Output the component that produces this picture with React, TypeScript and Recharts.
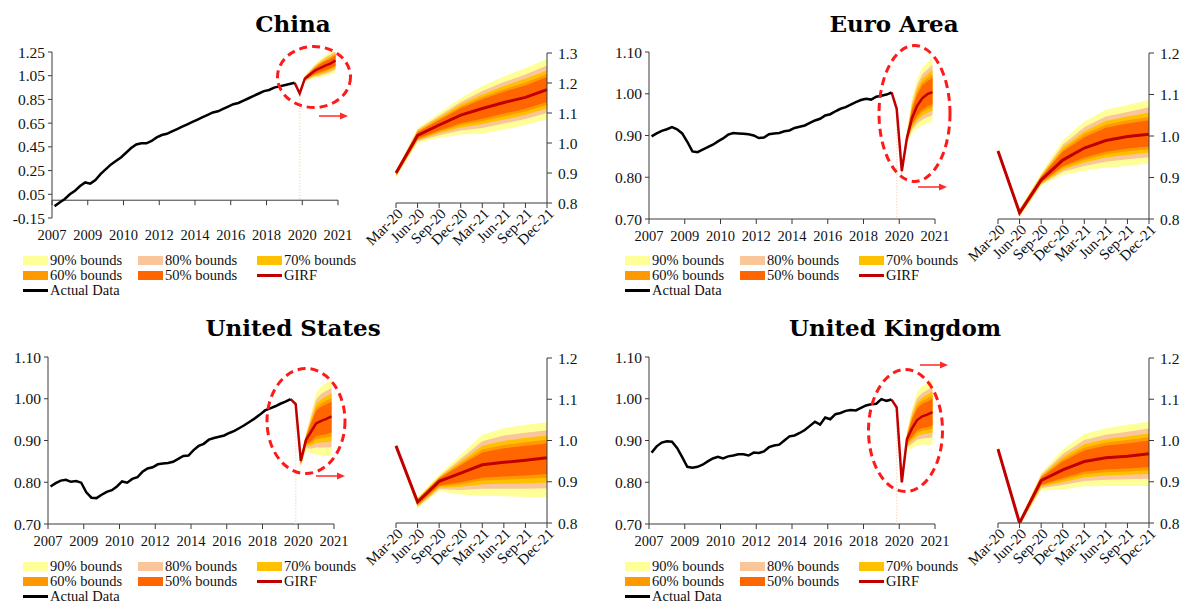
import React from 'react'
import { ComposedChart, Area, Line, XAxis, YAxis, ReferenceLine } from 'recharts'

const FONT = 'Liberation Serif'
const TITLE_FONT = 'DejaVu Serif'
const AXIS = '#3a3a3a'
const TXT = '#111'

const C90 = '#FFFF99'
const C80 = '#FAC598'
const C70 = '#FFC000'
const C60 = '#FF9900'
const C50 = '#FF6600'
const CGIRF = '#C00000'

const quarters = ['Mar-20', 'Jun-20', 'Sep-20', 'Dec-20', 'Mar-21', 'Jun-21', 'Sep-21', 'Dec-21']
const yearTicks = [0, 7, 14, 21, 28, 35, 42, 49, 56]
const yearLabels = ['2007', '2009', '2010', '2012', '2014', '2016', '2018', '2020', '2021']
const bandKeys = ['b90', 'b80', 'b70', 'b60', 'b50']
const bandColors = [C90, C80, C70, C60, C50]

// quarterly actual data, 48 points up to Dec-19
const chinaActual = [
  -0.05, -0.02, 0.01, 0.05, 0.08, 0.12, 0.15, 0.14, 0.17, 0.22, 0.26, 0.3,
  0.33, 0.36, 0.4, 0.44, 0.47, 0.48, 0.48, 0.5, 0.53, 0.55, 0.56, 0.58,
  0.6, 0.62, 0.64, 0.66, 0.68, 0.7, 0.72, 0.74, 0.75, 0.77, 0.79, 0.81,
  0.82, 0.84, 0.86, 0.88, 0.9, 0.92, 0.93, 0.95, 0.96, 0.97, 0.98, 0.99,
]
const euroActual = [
  0.898, 0.905, 0.911, 0.915, 0.92, 0.915, 0.905, 0.885, 0.862, 0.86, 0.866, 0.872,
  0.878, 0.886, 0.893, 0.902, 0.906, 0.905, 0.904, 0.903, 0.9, 0.894, 0.895, 0.903,
  0.905, 0.906, 0.91, 0.912, 0.918, 0.921, 0.924, 0.93, 0.936, 0.94, 0.948, 0.951,
  0.958, 0.964, 0.968, 0.974, 0.98, 0.985, 0.988, 0.986, 0.993, 0.995, 0.998, 1.003,
]
const usActual = [
  0.79, 0.798, 0.804, 0.806, 0.801, 0.803, 0.799, 0.776, 0.763, 0.762, 0.77, 0.777,
  0.781, 0.79, 0.802, 0.799, 0.808, 0.812, 0.825, 0.833, 0.836, 0.843, 0.845, 0.846,
  0.849, 0.856, 0.863, 0.864, 0.877, 0.887, 0.892, 0.902, 0.906, 0.909, 0.912, 0.918,
  0.923, 0.93, 0.937, 0.945, 0.953, 0.962, 0.972, 0.977, 0.982, 0.988, 0.993, 0.999,
]
const ukActual = [
  0.871, 0.886, 0.895, 0.898, 0.897, 0.882, 0.86, 0.837, 0.835, 0.837, 0.842, 0.85,
  0.857, 0.861, 0.857, 0.862, 0.864, 0.867, 0.867, 0.864, 0.871, 0.87, 0.874, 0.884,
  0.888, 0.89, 0.9, 0.91, 0.912, 0.918, 0.925, 0.935, 0.945, 0.938, 0.955, 0.951,
  0.963, 0.966, 0.971, 0.973, 0.972, 0.978, 0.984, 0.987, 0.988, 0.999, 0.995, 0.998,
]

// GIRF and bounds, Mar-20 .. Dec-21
const chinaGirf = [0.9, 1.025, 1.06, 1.093, 1.115, 1.135, 1.152, 1.178]
const china90 = [[0.885, 0.905], [1.0, 1.05], [1.017, 1.1], [1.028, 1.15], [1.032, 1.19], [1.045, 1.222], [1.06, 1.25], [1.078, 1.28]]
const china80 = [[0.888, 0.904], [1.006, 1.045], [1.026, 1.091], [1.042, 1.137], [1.05, 1.173], [1.065, 1.203], [1.08, 1.228], [1.1, 1.258]]
const china70 = [[0.89, 0.903], [1.009, 1.041], [1.033, 1.085], [1.052, 1.129], [1.063, 1.162], [1.078, 1.19], [1.094, 1.214], [1.115, 1.242]]
const china60 = [[0.893, 0.902], [1.012, 1.038], [1.038, 1.08], [1.06, 1.122], [1.073, 1.153], [1.089, 1.179], [1.105, 1.202], [1.127, 1.23]]
const china50 = [[0.895, 0.901], [1.015, 1.035], [1.042, 1.076], [1.066, 1.116], [1.081, 1.146], [1.098, 1.171], [1.114, 1.192], [1.137, 1.22]]

const euroGirf = [0.964, 0.815, 0.894, 0.942, 0.971, 0.989, 0.999, 1.004]
const euro90 = [[0.958, 0.968], [0.805, 0.825], [0.88, 0.91], [0.906, 0.99], [0.916, 1.035], [0.924, 1.063], [0.928, 1.075], [0.934, 1.087]]
const euro80 = [[0.959, 0.967], [0.807, 0.823], [0.883, 0.906], [0.914, 0.979], [0.928, 1.021], [0.938, 1.047], [0.944, 1.058], [0.949, 1.069]]
const euro70 = [[0.96, 0.966], [0.808, 0.822], [0.885, 0.904], [0.919, 0.972], [0.936, 1.011], [0.948, 1.036], [0.954, 1.047], [0.96, 1.056]]
const euro60 = [[0.961, 0.966], [0.81, 0.82], [0.887, 0.902], [0.924, 0.966], [0.943, 1.004], [0.956, 1.027], [0.963, 1.038], [0.968, 1.046]]
const euro50 = [[0.962, 0.965], [0.811, 0.819], [0.888, 0.901], [0.927, 0.962], [0.948, 0.997], [0.962, 1.02], [0.97, 1.03], [0.975, 1.038]]

const usGirf = [0.987, 0.851, 0.901, 0.921, 0.941, 0.947, 0.952, 0.958]
const us90 = [[0.982, 0.99], [0.836, 0.862], [0.877, 0.917], [0.869, 0.966], [0.866, 1.014], [0.865, 1.03], [0.863, 1.038], [0.863, 1.044]]
const us80 = [[0.983, 0.989], [0.839, 0.86], [0.882, 0.913], [0.88, 0.956], [0.883, 0.998], [0.883, 1.012], [0.883, 1.019], [0.884, 1.025]]
const us70 = [[0.984, 0.989], [0.841, 0.858], [0.886, 0.911], [0.888, 0.949], [0.894, 0.987], [0.895, 0.999], [0.896, 1.006], [0.898, 1.012]]
const us60 = [[0.985, 0.988], [0.843, 0.857], [0.889, 0.909], [0.894, 0.944], [0.903, 0.978], [0.905, 0.989], [0.907, 0.996], [0.91, 1.002]]
const us50 = [[0.986, 0.988], [0.845, 0.856], [0.891, 0.908], [0.899, 0.94], [0.91, 0.971], [0.913, 0.981], [0.915, 0.987], [0.919, 0.993]]

const ukGirf = [0.979, 0.8, 0.903, 0.929, 0.949, 0.958, 0.962, 0.968]
const uk90 = [[0.974, 0.983], [0.794, 0.807], [0.879, 0.921], [0.881, 0.978], [0.889, 1.016], [0.89, 1.03], [0.89, 1.038], [0.89, 1.046]]
const uk80 = [[0.975, 0.982], [0.795, 0.805], [0.884, 0.917], [0.892, 0.967], [0.902, 1.001], [0.905, 1.014], [0.906, 1.021], [0.907, 1.029]]
const uk70 = [[0.976, 0.982], [0.796, 0.804], [0.888, 0.914], [0.899, 0.96], [0.911, 0.991], [0.915, 1.003], [0.917, 1.01], [0.919, 1.017]]
const uk60 = [[0.977, 0.981], [0.797, 0.803], [0.891, 0.912], [0.905, 0.954], [0.918, 0.983], [0.923, 0.995], [0.925, 1.001], [0.928, 1.008]]
const uk50 = [[0.978, 0.98], [0.798, 0.802], [0.893, 0.91], [0.909, 0.949], [0.924, 0.976], [0.93, 0.988], [0.932, 0.993], [0.936, 1.0]]

const chinaTicks = [-0.15, 0.05, 0.25, 0.45, 0.65, 0.85, 1.05, 1.25]
const mainTicks = [0.7, 0.8, 0.9, 1.0, 1.1]
const chinaInsetTicks = [0.8, 0.9, 1.0, 1.1, 1.2, 1.3]
const insetTicks = [0.8, 0.9, 1.0, 1.1, 1.2]

const legendItems = [
  { label: '90% bounds', color: C90, kind: 'box' },
  { label: '80% bounds', color: C80, kind: 'box' },
  { label: '70% bounds', color: C70, kind: 'box' },
  { label: '60% bounds', color: C60, kind: 'box' },
  { label: '50% bounds', color: C50, kind: 'box' },
  { label: 'GIRF', color: CGIRF, kind: 'line' },
  { label: 'Actual Data', color: '#000', kind: 'line' },
]

function mainRows(actual, girf, bands) {
  return Array.from({ length: 56 }, (_, i) => {
    const row: any = { x: i + 0.5 }
    const k = i - 48
    if (i < 48) row.actual = actual[i]
    if (i === 47) row.girf = actual[47]
    if (k >= 0) {
      row.girf = girf[k]
      bandKeys.forEach((b, j) => { row[b] = bands[j][k] })
    }
    return row
  })
}

function insetRows(girf, bands) {
  return quarters.map((q, k) => {
    const row: any = { x: k, q, girf: girf[k] }
    bandKeys.forEach((b, j) => { row[b] = bands[j][k] })
    return row
  })
}

function bandAreas() {
  return bandKeys.map((b, j) => (
    <Area
      key={b}
      type="linear"
      dataKey={b}
      stroke="none"
      fill={bandColors[j]}
      fillOpacity={1}
      dot={false}
      activeDot={false}
      isAnimationActive={false}
    />
  ))
}

function MainChart({ left, top, actual, girf, bands, yMin, yMax, ticks, axisAt, yW, plotH }) {
  const mt = 12
  const mr = 24
  const plotW = 286
  const width = yW + plotW + mr
  const height = mt + plotH + 32
  const data = mainRows(actual, girf, bands)
  const axisY = mt + (plotH * (yMax - axisAt)) / (yMax - yMin)
  const labelY = mt + plotH + 22

  const tick = (props: any) => {
    const idx = yearTicks.indexOf(props.payload.value)
    return (
      <g>
        <line x1={props.x} x2={props.x} y1={axisY} y2={axisY + 5} stroke={AXIS} />
        <text x={props.x} y={labelY} textAnchor="middle" fontSize={14.5} fontFamily={FONT} fill={TXT}>
          {yearLabels[idx]}
        </text>
      </g>
    )
  }

  return (
    <div style={{ position: 'absolute', left, top }}>
      <ComposedChart width={width} height={height} data={data} margin={{ top: mt, right: mr, left: 0, bottom: 2 }}>
        <XAxis
          type="number"
          dataKey="x"
          domain={[0, 56]}
          ticks={yearTicks}
          interval={0}
          axisLine={false}
          tickLine={false}
          height={30}
          tick={tick}
        />
        <YAxis
          type="number"
          domain={[yMin, yMax]}
          ticks={ticks}
          interval={0}
          allowDataOverflow
          width={yW}
          tickSize={4}
          tickMargin={3}
          stroke={AXIS}
          tickFormatter={(v) => v.toFixed(2)}
          tick={{ fontSize: 15.5, fontFamily: FONT, fill: TXT }}
        />
        <ReferenceLine y={axisAt} stroke={AXIS} strokeWidth={1} />
        <ReferenceLine
          segment={[{ x: 48.5, y: girf[0] - 0.02 }, { x: 48.5, y: axisAt }]}
          stroke="#F6D5B2"
          strokeWidth={1.5}
          strokeDasharray="1 2"
        />
        {bandAreas()}
        <Line type="linear" dataKey="girf" stroke={CGIRF} strokeWidth={2.5} dot={false} activeDot={false} isAnimationActive={false} />
        <Line type="linear" dataKey="actual" stroke="#000" strokeWidth={2.5} dot={false} activeDot={false} isAnimationActive={false} />
      </ComposedChart>
    </div>
  )
}

function InsetChart({ left, top, girf, bands, yMin, yMax, ticks, plotH }) {
  const mt = 13
  const ml = 50
  const yW = 34
  const plotW = 151
  const width = ml + plotW + yW
  const height = mt + plotH + 55
  const data = insetRows(girf, bands)

  const tick = (props: any) => {
    const tx = props.x + 4
    const ty = props.y + 1
    return (
      <text
        x={tx}
        y={ty}
        dy="0.35em"
        textAnchor="end"
        transform={`rotate(-45, ${tx}, ${ty})`}
        fontSize={15}
        fontFamily={FONT}
        fill={TXT}
      >
        {quarters[props.payload.value]}
      </text>
    )
  }

  return (
    <div style={{ position: 'absolute', left: left - ml, top }}>
      <ComposedChart width={width} height={height} data={data} margin={{ top: mt, right: 0, left: ml, bottom: 0 }}>
        <XAxis
          type="number"
          dataKey="x"
          domain={[0, 7]}
          ticks={[0, 1, 2, 3, 4, 5, 6, 7]}
          interval={0}
          stroke={AXIS}
          tickSize={5}
          tickMargin={2}
          height={55}
          tick={tick}
        />
        <YAxis
          type="number"
          orientation="right"
          domain={[yMin, yMax]}
          ticks={ticks}
          interval={0}
          allowDataOverflow
          width={yW}
          stroke={AXIS}
          tickSize={5}
          tickMargin={6}
          tickFormatter={(v) => v.toFixed(1)}
          tick={{ fontSize: 15.5, fontFamily: FONT, fill: TXT }}
        />
        {bandAreas()}
        <Line type="linear" dataKey="girf" stroke={CGIRF} strokeWidth={3} dot={false} activeDot={false} isAnimationActive={false} />
      </ComposedChart>
    </div>
  )
}

function LegendBlock({ left, top }) {
  const colX = [0, 115, 234]
  return (
    <>
      {legendItems.map((it, k) => {
        const cx = left + colX[k % 3]
        const cy = top + Math.floor(k / 3) * 15
        return (
          <div key={it.label} style={{ position: 'absolute', left: cx, top: cy - 9, height: 18, display: 'flex', alignItems: 'center' }}>
            {it.kind === 'box' ? (
              <div style={{ width: 25, height: 9, background: it.color }} />
            ) : (
              <div style={{ width: 25, height: 3, background: it.color }} />
            )}
            <span style={{ marginLeft: 2, fontFamily: FONT, fontSize: 14.5, color: TXT, whiteSpace: 'nowrap' }}>{it.label}</span>
          </div>
        )
      })}
    </>
  )
}

function Arrow({ x1, x2, y }) {
  return (
    <g>
      <line x1={x1} x2={x2 - 6} y1={y} y2={y} stroke="#FF2A2A" strokeWidth={1.5} />
      <polygon points={`${x2},${y} ${x2 - 8},${y - 3.5} ${x2 - 8},${y + 3.5}`} fill="#FF2A2A" />
    </g>
  )
}

export default function App() {
  return (
    <div style={{ position: 'absolute', left: 0, top: 0, width: 1183, height: 603, background: '#fff', overflow: 'hidden', fontFamily: FONT }}>
      <MainChart left={0} top={40} actual={chinaActual} girf={chinaGirf} bands={[china90, china80, china70, china60, china50]}
        yMin={-0.15} yMax={1.25} ticks={chinaTicks} axisAt={0} yW={52} plotH={166} />
      <InsetChart left={396} top={40} girf={chinaGirf} bands={[china90, china80, china70, china60, china50]}
        yMin={0.8} yMax={1.3} ticks={chinaInsetTicks} plotH={150} />
      <LegendBlock left={23} top={260} />

      <MainChart left={597} top={40} actual={euroActual} girf={euroGirf} bands={[euro90, euro80, euro70, euro60, euro50]}
        yMin={0.7} yMax={1.1} ticks={mainTicks} axisAt={0.7} yW={52} plotH={167} />
      <InsetChart left={998} top={40} girf={euroGirf} bands={[euro90, euro80, euro70, euro60, euro50]}
        yMin={0.8} yMax={1.2} ticks={insetTicks} plotH={166} />
      <LegendBlock left={625} top={260} />

      <MainChart left={-4} top={345} actual={usActual} girf={usGirf} bands={[us90, us80, us70, us60, us50]}
        yMin={0.7} yMax={1.1} ticks={mainTicks} axisAt={0.7} yW={52} plotH={167} />
      <InsetChart left={396} top={345} girf={usGirf} bands={[us90, us80, us70, us60, us50]}
        yMin={0.8} yMax={1.2} ticks={insetTicks} plotH={165} />
      <LegendBlock left={23} top={566} />

      <MainChart left={597} top={345} actual={ukActual} girf={ukGirf} bands={[uk90, uk80, uk70, uk60, uk50]}
        yMin={0.7} yMax={1.1} ticks={mainTicks} axisAt={0.7} yW={52} plotH={167} />
      <InsetChart left={998} top={345} girf={ukGirf} bands={[uk90, uk80, uk70, uk60, uk50]}
        yMin={0.8} yMax={1.2} ticks={insetTicks} plotH={165} />
      <LegendBlock left={625} top={566} />

      <svg width={1183} height={603} style={{ position: 'absolute', left: 0, top: 0, pointerEvents: 'none' }}>
        <g fontFamily={TITLE_FONT} fontWeight="bold" fontSize={23} fill="#000" textAnchor="middle">
          <text x={293} y={32}>China</text>
          <text x={894} y={32}>Euro Area</text>
          <text x={293} y={336}>United States</text>
          <text x={895} y={336}>United Kingdom</text>
        </g>
        <g fill="none" stroke="#FF1A1A" strokeWidth={3} strokeDasharray="8 5">
          <ellipse cx={314} cy={77} rx={36.5} ry={30.5} />
          <ellipse cx={914.5} cy={113.5} rx={35.5} ry={68} />
          <ellipse cx={306} cy={421} rx={39} ry={52.5} />
          <ellipse cx={905.5} cy={430.5} rx={37} ry={61} />
        </g>
        <Arrow x1={319} x2={348} y={116} />
        <Arrow x1={918} x2={947} y={187} />
        <Arrow x1={316} x2={345} y={476} />
        <Arrow x1={920} x2={948} y={365} />
      </svg>
    </div>
  )
}
